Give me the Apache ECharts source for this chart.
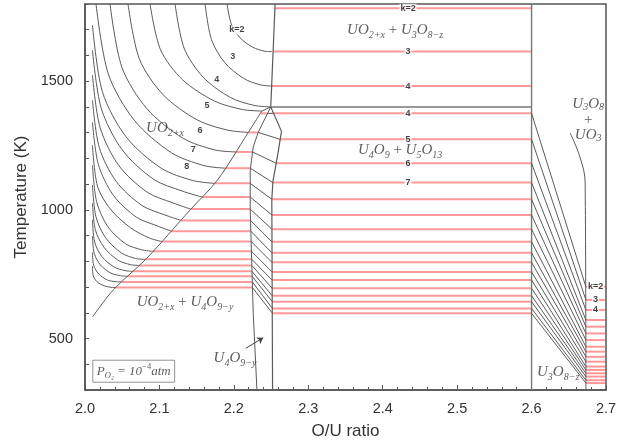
<!DOCTYPE html>
<html><head><meta charset="utf-8">
<script src="https://cdn.jsdelivr.net/npm/echarts@6/dist/echarts.min.js"></script>
<style>html,body{margin:0;padding:0;background:#fff}#c{width:630px;height:446px}</style>
</head><body><div id="c"></div>
<script>
// ---------------- data (O/U ratio, Temperature K) ----------------
const arcs = [
 [[2.1909,1800],[2.1965,1723],[2.2085,1668],[2.2255,1632],[2.2405,1617],[2.2510,1615]],
 [[2.1613,1800],[2.1698,1663],[2.1875,1573],[2.2130,1511],[2.2353,1486],[2.2508,1481]],
 [[2.1210,1800],[2.1331,1629],[2.1586,1516],[2.1952,1437],[2.2272,1406],[2.2496,1400]],
 [[2.0874,1800],[2.1015,1622],[2.1313,1505],[2.1739,1423],[2.2114,1390],[2.2375,1384]],
 [[2.0578,1800],[2.0730,1587],[2.1051,1447],[2.1511,1349],[2.1914,1310],[2.2195,1301]],
 [[2.0336,1800],[2.0496,1554],[2.0835,1392],[2.1319,1278],[2.1743,1233],[2.2025,1225]],
 [[2.0148,1800],[2.0313,1528],[2.0663,1348],[2.1161,1222],[2.1598,1172],[2.1880,1162]],
 [[2.01,1718],[2.0234,1459],[2.0551,1284],[2.1024,1162],[2.1448,1114],[2.174,1103]],
 [[2.01,1621],[2.0218,1395],[2.0500,1233],[2.0926,1118],[2.1307,1073],[2.157,1050]],
 [[2.01,1524],[2.0203,1320],[2.0455,1172],[2.0839,1068],[2.1182,1027],[2.142,1003]],
 [[2.01,1427],[2.0191,1243],[2.0418,1111],[2.0765,1017],[2.1076,980],[2.129,959]],
 [[2.01,1341],[2.0179,1177],[2.0380,1057],[2.0689,972],[2.0968,938],[2.116,917]],
 [[2.01,1252],[2.0167,1093],[2.0341,1003],[2.0614,930],[2.0861,891],[2.103,877]],
 [[2.01,1174],[2.0156,1032],[2.0306,935],[2.0546,868],[2.0761,845],[2.091,839]],
 [[2.01,1097],[2.0147,973],[2.0278,891],[2.0488,833],[2.0679,811],[2.081,808]],
 [[2.01,1027],[2.0139,923],[2.0256,854],[2.0441,805],[2.0613,787],[2.073,784]],
 [[2.01,961],[2.0130,875],[2.0228,818],[2.0390,778],[2.0538,764],[2.064,761]],
 [[2.01,898],[2.0124,831],[2.0207,786],[2.0349,754],[2.0480,744],[2.057,742]],
 [[2.01,836],[2.0116,785],[2.0184,751],[2.0304,727],[2.0415,721],[2.049,720]],
 [[2.01,782],[2.0109,746],[2.0160,721],[2.0257,705],[2.0349,699],[2.041,698]]
];
const uo2Boundary = [[2.0103,585],[2.038,689],[2.083,812],[2.141,999],[2.178,1116],[2.219,1299],[2.2375,1384]];
const uo2Cap = [[2.2375,1384],[2.2496,1400]];
const u3o8LeftBoundary = [[2.2554,1800],[2.2496,1400]];
const peritectic = [[2.2496,1400],[2.6,1400]];
const u4o9Left = [[2.2496,1400],[2.233,1303],[2.226,1245],[2.222,1154],[2.222,1000],[2.226,600],[2.231,300]];
const u4o9Right = [[2.2496,1400],[2.264,1305],[2.259,1216],[2.2525,1111],[2.251,1041],[2.252,300]];
const line26 = [[2.6,300],[2.6,1800]];
const u3o8Right = [[2.6519,1298],[2.665,1205],[2.672,1104],[2.673,300]];

const centralT = [1783,1615,1481,1375,1274,1181,1106,1041,980,925,876,833,796,759,727,695,666,643,617,598];
const centralXStart = [2.2552,2.2527,2.2508,2.2534,2.262,2.257,2.2524,2.251,2.251,2.251,2.251,2.251,2.2512,2.2513,2.2514,2.2515,2.2516,2.2517,2.2518,2.2519];
const centralXEnd = 2.6;
const leftT = [1375,1301,1225,1162,1103,1050,1003,959,917,877,839,808,784,761,742,720,698];
const leftXStart = [2.236,2.2195,2.2025,2.188,2.174,2.157,2.142,2.129,2.116,2.103,2.091,2.081,2.073,2.064,2.057,2.049,2.041];
const leftXEnd = [2.2453,2.233,2.225,2.222,2.222,2.222,2.222,2.2224,2.2229,2.2233,2.2237,2.224,2.2242,2.2244,2.2246,2.2248,2.225];
const rightT = [701,650,611,572,546,520,494,468,449,429,410,391,378,365,352,338,327];
const rightXStart = 2.673, rightXEnd = 2.7;

const centralLabels = ['k=2','3','4','4','5','6','7'];
const centralLabelX = 2.434;
const arcLabels = [['k=2',2.204,1699],['3',2.1985,1594],['4',2.177,1505],['5',2.164,1404],['6',2.1546,1310],['7',2.1456,1233],['8',2.1367,1168]];
const rightLabels = ['k=2','3','4'];
const rightLabelX = 2.686;

const yLabels = [500,1000,1500];

// ---------------- chart ----------------
const GRAY = '#5a5a5a', RED = 'rgba(255,70,70,0.55)';
const series = [];
function line(data, color, width, smooth, z) {
  series.push({type:'line', data, symbol:'none', silent:true, smooth: smooth || false,
    lineStyle:{color, width}, z: z || 2, animation:false});
}
arcs.forEach(a => line(a, GRAY, 1, 0.3));
line(uo2Boundary, GRAY, 1, 0.3);
line(uo2Cap, GRAY, 1);
line(u3o8LeftBoundary, GRAY, 1.2);
line(peritectic, '#777', 1.6);
line(u4o9Left, GRAY, 1);
line(u4o9Right, GRAY, 1.2);
line(line26, '#777', 1.4);
line(u3o8Right, GRAY, 1, 0.4);
centralT.forEach((t,i) => line([[centralXStart[i],t],[centralXEnd,t]], RED, 2, false, 1));
leftT.forEach((t,i) => line([[leftXStart[i],t],[leftXEnd[i],t]], RED, 2, false, 1));
rightT.forEach((t,i) => line([[rightXStart,t],[rightXEnd,t]], RED, 2, false, 1));
leftT.forEach((t,i) => line([[leftXEnd[i],t],[centralXStart[i+3],centralT[i+3]]], GRAY, 1));
rightT.forEach((t,i) => line([[2.6,centralT[i+3]],[rightXStart,t]], GRAY, 1));

const kLabel = {show:true, position:'inside', color:'#111', fontSize:9, fontWeight:'bold',
  fontFamily:'Liberation Sans, Arial', backgroundColor:'#fff', padding:[0,1]};
const kData = [];
centralLabels.forEach((s,i) => kData.push({value:[centralLabelX, centralT[i]], label:{formatter:s}}));
arcLabels.forEach(a => kData.push({value:[a[1],a[2]], label:{formatter:a[0]}}));
rightLabels.forEach((s,i) => kData.push({value:[rightLabelX, rightT[i]], label:{formatter:s}}));
series.push({type:'scatter', data:kData, symbolSize:0, silent:true, z:10, label:kLabel, animation:false});

const MF = 'Liberation Serif, Times New Roman, serif';
const rich = {
  m:{fontFamily:MF, fontStyle:'italic', fontSize:15, color:'#333', lineHeight:20},
  s:{fontFamily:MF, fontStyle:'italic', fontSize:10, color:'#333', lineHeight:12, verticalAlign:'bottom'},
  p:{fontFamily:MF, fontSize:15, color:'#333', lineHeight:20},
  m2:{fontFamily:MF, fontStyle:'italic', fontSize:15, color:'#333', lineHeight:16},
  s2:{fontFamily:MF, fontStyle:'italic', fontSize:10, color:'#333', lineHeight:10, verticalAlign:'bottom'},
  p2:{fontFamily:MF, fontSize:15, color:'#333', lineHeight:15},
  sm:{fontFamily:MF, fontStyle:'italic', fontSize:13, color:'#333', lineHeight:18},
  ss:{fontFamily:MF, fontStyle:'italic', fontSize:8.5, color:'#333', lineHeight:10, verticalAlign:'bottom'},
  sup:{fontFamily:MF, fontSize:8.5, color:'#333', lineHeight:10, verticalAlign:'top'}
};
const annots = [
  {value:[2.1075,1318], label:{formatter:'{m|UO}{s|2+x}'}},
  {value:[2.4167,1699], label:{formatter:'{m|UO}{s|2+x}{p| + }{m|U}{s|3}{m|O}{s|8−z}'}},
  {value:[2.4234,1233], label:{formatter:'{m|U}{s|4}{m|O}{s|9}{p| + }{m|U}{s|5}{m|O}{s|13}'}},
  {value:[2.1344,642], label:{formatter:'{m|UO}{s|2+x}{p| + }{m|U}{s|4}{m|O}{s|9−y}'}},
  {value:[2.2016,424], label:{formatter:'{m|U}{s|4}{m|O}{s|9−y}'}},
  {value:[2.6357,370], label:{formatter:'{m|U}{s|3}{m|O}{s|8−z}'}},
  {value:[2.676,1350], label:{formatter:'{m2|U}{s2|3}{m2|O}{s2|8}\n{p2|+}\n{m2|UO}{s2|3}'}}
];
series.push({type:'scatter', data:annots, symbolSize:0, silent:true, z:11, animation:false,
  label:{show:true, position:'inside', rich}});
series.push({type:'scatter', data:[[2.0105,373]], symbolSize:0, silent:true, z:11, animation:false,
  label:{show:true, position:'right', distance:0, borderColor:'#777', borderWidth:1, padding:[2,4,2,4],
    formatter:'{sm|P}{ss|O₂}{sm| = 10}{sup|−4}{sm|atm}', rich}});
// arrow for U4O9-y
series.push({type:'line', data:[], silent:true, markLine:{silent:true, symbol:['none','arrow'], symbolSize:6,
  label:{show:false}, lineStyle:{color:'#444', width:1, type:'solid'},
  data:[[{coord:[2.216,462]},{coord:[2.2395,503]}]], animation:false}});

const chart = echarts.init(document.getElementById('c'), null, {renderer:'canvas'});
chart.setOption({
  animation:false,
  grid:{left:85, right:24, top:4, bottom:56, show:true, borderColor:'#555', borderWidth:1.5},
  xAxis:{type:'value', min:2.0, max:2.7, interval:0.1,
    name:'O/U ratio', nameLocation:'middle', nameGap:33,
    nameTextStyle:{fontSize:17, color:'#333', fontFamily:'Liberation Sans, Arial'},
    axisLine:{lineStyle:{color:'#555', width:1.5}},
    axisTick:{inside:true, length:5, lineStyle:{color:'#555'}},
    minorTick:{show:true, splitNumber:5, length:3, lineStyle:{color:'#555'}},
    axisLabel:{fontSize:14.5, color:'#333', margin:11, fontFamily:'Liberation Sans, Arial',
      formatter:v => v.toFixed(1)},
    splitLine:{show:false}},
  yAxis:{type:'value', min:300, max:1800, interval:100,
    name:'Temperature (K)', nameLocation:'middle', nameGap:52,
    nameTextStyle:{fontSize:17, color:'#333', fontFamily:'Liberation Sans, Arial'},
    axisLine:{lineStyle:{color:'#555', width:1.5}},
    axisTick:{inside:true, length:4, lineStyle:{color:'#555'}},
    axisLabel:{fontSize:14.5, color:'#333', margin:12, fontFamily:'Liberation Sans, Arial',
      formatter:v => yLabels.includes(v) ? String(v) : ''},
    splitLine:{show:false}},
  series
});
</script></body></html>
